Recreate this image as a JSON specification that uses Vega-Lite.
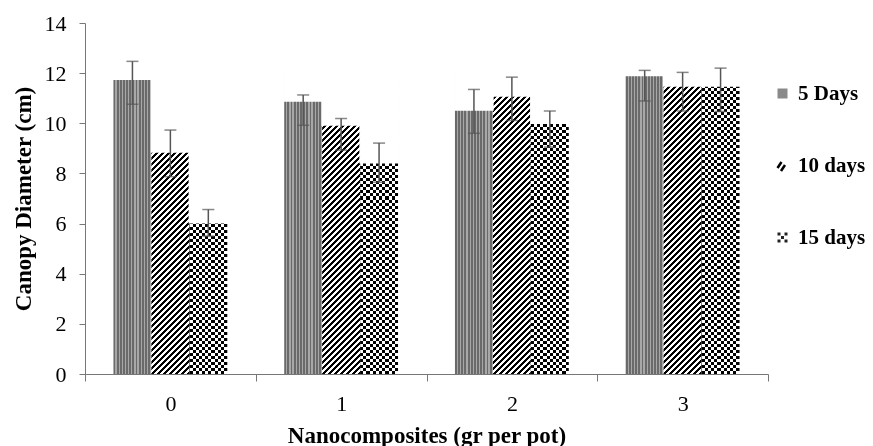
{
"$schema": "https://vega.github.io/schema/vega-lite/v6.json",
"width": 683,
"height": 351,
"autosize": "none",
"padding": {"left": 85, "top": 23, "right": 105, "bottom": 72},
"background": "white",
"config": {
  "view": {"stroke": null},
  "axis": {"grid": false, "domainColor": "#777", "tickColor": "#777", "domainWidth": 1, "tickWidth": 1,
    "labelFont": "Liberation Serif", "labelFontSize": 22, "labelColor": "#000",
    "titleFont": "Liberation Serif", "titleFontSize": 23, "titleFontWeight": "bold", "titleColor": "#000"}
},
"data": {"values": [
  {"cat": "0", "series": "5 Days", "value": 11.76, "lo": 10.76, "hi": 12.47},
  {"cat": "0", "series": "10 days", "value": 8.85, "lo": 7.87, "hi": 9.73},
  {"cat": "0", "series": "15 days", "value": 6.03, "lo": 5.5, "hi": 6.56},
  {"cat": "1", "series": "5 Days", "value": 10.89, "lo": 9.92, "hi": 11.13},
  {"cat": "1", "series": "10 days", "value": 9.93, "lo": 8.93, "hi": 10.19},
  {"cat": "1", "series": "15 days", "value": 8.43, "lo": 7.65, "hi": 9.21},
  {"cat": "2", "series": "5 Days", "value": 10.53, "lo": 9.6, "hi": 11.35},
  {"cat": "2", "series": "10 days", "value": 11.09, "lo": 10.11, "hi": 11.84},
  {"cat": "2", "series": "15 days", "value": 10.0, "lo": 9.05, "hi": 10.49},
  {"cat": "3", "series": "5 Days", "value": 11.91, "lo": 10.89, "hi": 12.11},
  {"cat": "3", "series": "10 days", "value": 11.49, "lo": 10.49, "hi": 12.03},
  {"cat": "3", "series": "15 days", "value": 11.49, "lo": 10.47, "hi": 12.2}
]},
"encoding": {
  "x": {"field": "cat", "type": "nominal", "title": "Nanocomposites (gr per pot)",
    "scale": {"paddingInner": 0, "paddingOuter": 0},
    "axis": {"labelAngle": 0, "tickBand": "extent", "tickSize": 7, "labelPadding": 29, "labelBaseline": "alphabetic",
      "titleX": 341.5, "titleY": 68, "titleBaseline": "alphabetic", "titleAlign": "center"}},
  "xOffset": {"field": "series", "type": "nominal", "sort": ["5 Days", "10 days", "15 days"],
    "scale": {"paddingInner": 0, "paddingOuter": 0.75}}
},
"layer": [
  {
    "mark": {"type": "bar"},
    "encoding": {
      "y": {"datum": 12, "type": "quantitative", "title": "Canopy Diameter (cm)",
        "scale": {"domain": [0, 14], "nice": false},
        "axis": {"values": [0, 2, 4, 6, 8, 10, 12, 14], "tickSize": 6, "labelPadding": 13,
          "titleX": -62, "titleY": 175.5, "titleAngle": 270, "titleBaseline": "middle", "titleAlign": "center"}},
      "y2": {"datum": 0},
      "fill": {
        "field": "series", "type": "nominal", "sort": ["5 Days", "10 days", "15 days"],
        "scale": {"range": ["#8a8a8a", "#555555", "#222222"]},
        "legend": {"title": null, "orient": "none", "legendX": 687, "legendY": 60, "symbolSize": 100,
          "labelFont": "Liberation Serif", "labelFontSize": 21, "labelFontWeight": "bold", "labelColor": "#000",
          "rowPadding": 50, "labelOffset": 5, "padding": 0,
          "encode": {"symbols": {"update": {
            "shape": {"signal": "datum.value === '10 days' ? 'M-1,0.5L-0.2,-0.7M-0.3,1.1L0.5,-0.1' : datum.value === '15 days' ? 'M-1,-1H-0.4V-0.4H-1Z M0.4,-1H1V-0.4H0.4Z M-0.3,-0.3H0.3V0.3H-0.3Z M-1,0.4H-0.4V1H-1Z M0.4,0.4H1V1H0.4Z' : 'square'"},
            "fill": {"signal": "datum.value === '5 Days' ? '#8a8a8a' : datum.value === '15 days' ? '#000' : 'transparent'"},
            "stroke": {"signal": "datum.value === '10 days' ? '#000' : 'transparent'"},
            "strokeWidth": {"value": 2.5}
          }}}},
        "condition": [
          {"test": "datum.series === '5 Days'", "value": {"gradient": "linear", "x1": 0, "y1": 0, "x2": 1, "y2": 0, "stops": [
            {"offset": 0, "color": "#6a6a6a"}, {"offset": 0.05, "color": "#6a6a6a"}, {"offset": 0.05, "color": "#a8a8a8"}, {"offset": 0.0833, "color": "#a8a8a8"},
            {"offset": 0.0833, "color": "#6a6a6a"}, {"offset": 0.1333, "color": "#6a6a6a"}, {"offset": 0.1333, "color": "#a8a8a8"}, {"offset": 0.1667, "color": "#a8a8a8"},
            {"offset": 0.1667, "color": "#6a6a6a"}, {"offset": 0.2167, "color": "#6a6a6a"}, {"offset": 0.2167, "color": "#a8a8a8"}, {"offset": 0.25, "color": "#a8a8a8"},
            {"offset": 0.25, "color": "#6a6a6a"}, {"offset": 0.3, "color": "#6a6a6a"}, {"offset": 0.3, "color": "#a8a8a8"}, {"offset": 0.3333, "color": "#a8a8a8"},
            {"offset": 0.3333, "color": "#6a6a6a"}, {"offset": 0.3833, "color": "#6a6a6a"}, {"offset": 0.3833, "color": "#a8a8a8"}, {"offset": 0.4167, "color": "#a8a8a8"},
            {"offset": 0.4167, "color": "#6a6a6a"}, {"offset": 0.4667, "color": "#6a6a6a"}, {"offset": 0.4667, "color": "#a8a8a8"}, {"offset": 0.5, "color": "#a8a8a8"},
            {"offset": 0.5, "color": "#6a6a6a"}, {"offset": 0.55, "color": "#6a6a6a"}, {"offset": 0.55, "color": "#a8a8a8"}, {"offset": 0.5833, "color": "#a8a8a8"},
            {"offset": 0.5833, "color": "#6a6a6a"}, {"offset": 0.6333, "color": "#6a6a6a"}, {"offset": 0.6333, "color": "#a8a8a8"}, {"offset": 0.6667, "color": "#a8a8a8"},
            {"offset": 0.6667, "color": "#6a6a6a"}, {"offset": 0.7167, "color": "#6a6a6a"}, {"offset": 0.7167, "color": "#a8a8a8"}, {"offset": 0.75, "color": "#a8a8a8"},
            {"offset": 0.75, "color": "#6a6a6a"}, {"offset": 0.8, "color": "#6a6a6a"}, {"offset": 0.8, "color": "#a8a8a8"}, {"offset": 0.8333, "color": "#a8a8a8"},
            {"offset": 0.8333, "color": "#6a6a6a"}, {"offset": 0.8833, "color": "#6a6a6a"}, {"offset": 0.8833, "color": "#a8a8a8"}, {"offset": 0.9167, "color": "#a8a8a8"},
            {"offset": 0.9167, "color": "#6a6a6a"}, {"offset": 0.9667, "color": "#6a6a6a"}, {"offset": 0.9667, "color": "#a8a8a8"}, {"offset": 1, "color": "#a8a8a8"}
          ]}},
          {"test": "datum.series === '10 days'", "value": {"gradient": "linear", "x1": 0, "y1": 0, "x2": 0.24758, "y2": 1.96307, "stops": [
            {"offset": 0, "color": "#000"},
            {"offset": 0.005, "color": "#000"}, {"offset": 0.005, "color": "#fff"}, {"offset": 0.01, "color": "#fff"}, {"offset": 0.01, "color": "#000"},
            {"offset": 0.015, "color": "#000"}, {"offset": 0.015, "color": "#fff"}, {"offset": 0.02, "color": "#fff"}, {"offset": 0.02, "color": "#000"},
            {"offset": 0.025, "color": "#000"}, {"offset": 0.025, "color": "#fff"}, {"offset": 0.03, "color": "#fff"}, {"offset": 0.03, "color": "#000"},
            {"offset": 0.035, "color": "#000"}, {"offset": 0.035, "color": "#fff"}, {"offset": 0.04, "color": "#fff"}, {"offset": 0.04, "color": "#000"},
            {"offset": 0.045, "color": "#000"}, {"offset": 0.045, "color": "#fff"}, {"offset": 0.05, "color": "#fff"}, {"offset": 0.05, "color": "#000"},
            {"offset": 0.055, "color": "#000"}, {"offset": 0.055, "color": "#fff"}, {"offset": 0.06, "color": "#fff"}, {"offset": 0.06, "color": "#000"},
            {"offset": 0.065, "color": "#000"}, {"offset": 0.065, "color": "#fff"}, {"offset": 0.07, "color": "#fff"}, {"offset": 0.07, "color": "#000"},
            {"offset": 0.075, "color": "#000"}, {"offset": 0.075, "color": "#fff"}, {"offset": 0.08, "color": "#fff"}, {"offset": 0.08, "color": "#000"},
            {"offset": 0.085, "color": "#000"}, {"offset": 0.085, "color": "#fff"}, {"offset": 0.09, "color": "#fff"}, {"offset": 0.09, "color": "#000"},
            {"offset": 0.095, "color": "#000"}, {"offset": 0.095, "color": "#fff"}, {"offset": 0.1, "color": "#fff"}, {"offset": 0.1, "color": "#000"},
            {"offset": 0.105, "color": "#000"}, {"offset": 0.105, "color": "#fff"}, {"offset": 0.11, "color": "#fff"}, {"offset": 0.11, "color": "#000"},
            {"offset": 0.115, "color": "#000"}, {"offset": 0.115, "color": "#fff"}, {"offset": 0.12, "color": "#fff"}, {"offset": 0.12, "color": "#000"},
            {"offset": 0.125, "color": "#000"}, {"offset": 0.125, "color": "#fff"}, {"offset": 0.13, "color": "#fff"}, {"offset": 0.13, "color": "#000"},
            {"offset": 0.135, "color": "#000"}, {"offset": 0.135, "color": "#fff"}, {"offset": 0.14, "color": "#fff"}, {"offset": 0.14, "color": "#000"},
            {"offset": 0.145, "color": "#000"}, {"offset": 0.145, "color": "#fff"}, {"offset": 0.15, "color": "#fff"}, {"offset": 0.15, "color": "#000"},
            {"offset": 0.155, "color": "#000"}, {"offset": 0.155, "color": "#fff"}, {"offset": 0.16, "color": "#fff"}, {"offset": 0.16, "color": "#000"},
            {"offset": 0.165, "color": "#000"}, {"offset": 0.165, "color": "#fff"}, {"offset": 0.17, "color": "#fff"}, {"offset": 0.17, "color": "#000"},
            {"offset": 0.175, "color": "#000"}, {"offset": 0.175, "color": "#fff"}, {"offset": 0.18, "color": "#fff"}, {"offset": 0.18, "color": "#000"},
            {"offset": 0.185, "color": "#000"}, {"offset": 0.185, "color": "#fff"}, {"offset": 0.19, "color": "#fff"}, {"offset": 0.19, "color": "#000"},
            {"offset": 0.195, "color": "#000"}, {"offset": 0.195, "color": "#fff"}, {"offset": 0.2, "color": "#fff"}, {"offset": 0.2, "color": "#000"},
            {"offset": 0.205, "color": "#000"}, {"offset": 0.205, "color": "#fff"}, {"offset": 0.21, "color": "#fff"}, {"offset": 0.21, "color": "#000"},
            {"offset": 0.215, "color": "#000"}, {"offset": 0.215, "color": "#fff"}, {"offset": 0.22, "color": "#fff"}, {"offset": 0.22, "color": "#000"},
            {"offset": 0.225, "color": "#000"}, {"offset": 0.225, "color": "#fff"}, {"offset": 0.23, "color": "#fff"}, {"offset": 0.23, "color": "#000"},
            {"offset": 0.235, "color": "#000"}, {"offset": 0.235, "color": "#fff"}, {"offset": 0.24, "color": "#fff"}, {"offset": 0.24, "color": "#000"},
            {"offset": 0.245, "color": "#000"}, {"offset": 0.245, "color": "#fff"}, {"offset": 0.25, "color": "#fff"}, {"offset": 0.25, "color": "#000"},
            {"offset": 0.255, "color": "#000"}, {"offset": 0.255, "color": "#fff"}, {"offset": 0.26, "color": "#fff"}, {"offset": 0.26, "color": "#000"},
            {"offset": 0.265, "color": "#000"}, {"offset": 0.265, "color": "#fff"}, {"offset": 0.27, "color": "#fff"}, {"offset": 0.27, "color": "#000"},
            {"offset": 0.275, "color": "#000"}, {"offset": 0.275, "color": "#fff"}, {"offset": 0.28, "color": "#fff"}, {"offset": 0.28, "color": "#000"},
            {"offset": 0.285, "color": "#000"}, {"offset": 0.285, "color": "#fff"}, {"offset": 0.29, "color": "#fff"}, {"offset": 0.29, "color": "#000"},
            {"offset": 0.295, "color": "#000"}, {"offset": 0.295, "color": "#fff"}, {"offset": 0.3, "color": "#fff"}, {"offset": 0.3, "color": "#000"},
            {"offset": 0.305, "color": "#000"}, {"offset": 0.305, "color": "#fff"}, {"offset": 0.31, "color": "#fff"}, {"offset": 0.31, "color": "#000"},
            {"offset": 0.315, "color": "#000"}, {"offset": 0.315, "color": "#fff"}, {"offset": 0.32, "color": "#fff"}, {"offset": 0.32, "color": "#000"},
            {"offset": 0.325, "color": "#000"}, {"offset": 0.325, "color": "#fff"}, {"offset": 0.33, "color": "#fff"}, {"offset": 0.33, "color": "#000"},
            {"offset": 0.335, "color": "#000"}, {"offset": 0.335, "color": "#fff"}, {"offset": 0.34, "color": "#fff"}, {"offset": 0.34, "color": "#000"},
            {"offset": 0.345, "color": "#000"}, {"offset": 0.345, "color": "#fff"}, {"offset": 0.35, "color": "#fff"}, {"offset": 0.35, "color": "#000"},
            {"offset": 0.355, "color": "#000"}, {"offset": 0.355, "color": "#fff"}, {"offset": 0.36, "color": "#fff"}, {"offset": 0.36, "color": "#000"},
            {"offset": 0.365, "color": "#000"}, {"offset": 0.365, "color": "#fff"}, {"offset": 0.37, "color": "#fff"}, {"offset": 0.37, "color": "#000"},
            {"offset": 0.375, "color": "#000"}, {"offset": 0.375, "color": "#fff"}, {"offset": 0.38, "color": "#fff"}, {"offset": 0.38, "color": "#000"},
            {"offset": 0.385, "color": "#000"}, {"offset": 0.385, "color": "#fff"}, {"offset": 0.39, "color": "#fff"}, {"offset": 0.39, "color": "#000"},
            {"offset": 0.395, "color": "#000"}, {"offset": 0.395, "color": "#fff"}, {"offset": 0.4, "color": "#fff"}, {"offset": 0.4, "color": "#000"},
            {"offset": 0.405, "color": "#000"}, {"offset": 0.405, "color": "#fff"}, {"offset": 0.41, "color": "#fff"}, {"offset": 0.41, "color": "#000"},
            {"offset": 0.415, "color": "#000"}, {"offset": 0.415, "color": "#fff"}, {"offset": 0.42, "color": "#fff"}, {"offset": 0.42, "color": "#000"},
            {"offset": 0.425, "color": "#000"}, {"offset": 0.425, "color": "#fff"}, {"offset": 0.43, "color": "#fff"}, {"offset": 0.43, "color": "#000"},
            {"offset": 0.435, "color": "#000"}, {"offset": 0.435, "color": "#fff"}, {"offset": 0.44, "color": "#fff"}, {"offset": 0.44, "color": "#000"},
            {"offset": 0.445, "color": "#000"}, {"offset": 0.445, "color": "#fff"}, {"offset": 0.45, "color": "#fff"}, {"offset": 0.45, "color": "#000"},
            {"offset": 0.455, "color": "#000"}, {"offset": 0.455, "color": "#fff"}, {"offset": 0.46, "color": "#fff"}, {"offset": 0.46, "color": "#000"},
            {"offset": 0.465, "color": "#000"}, {"offset": 0.465, "color": "#fff"}, {"offset": 0.47, "color": "#fff"}, {"offset": 0.47, "color": "#000"},
            {"offset": 0.475, "color": "#000"}, {"offset": 0.475, "color": "#fff"}, {"offset": 0.48, "color": "#fff"}, {"offset": 0.48, "color": "#000"},
            {"offset": 0.485, "color": "#000"}, {"offset": 0.485, "color": "#fff"}, {"offset": 0.49, "color": "#fff"}, {"offset": 0.49, "color": "#000"},
            {"offset": 0.495, "color": "#000"}, {"offset": 0.495, "color": "#fff"}, {"offset": 0.5, "color": "#fff"}, {"offset": 0.5, "color": "#000"},
            {"offset": 0.505, "color": "#000"}, {"offset": 0.505, "color": "#fff"}, {"offset": 0.51, "color": "#fff"}, {"offset": 0.51, "color": "#000"},
            {"offset": 0.515, "color": "#000"}, {"offset": 0.515, "color": "#fff"}, {"offset": 0.52, "color": "#fff"}, {"offset": 0.52, "color": "#000"},
            {"offset": 0.525, "color": "#000"}, {"offset": 0.525, "color": "#fff"}, {"offset": 0.53, "color": "#fff"}, {"offset": 0.53, "color": "#000"},
            {"offset": 0.535, "color": "#000"}, {"offset": 0.535, "color": "#fff"}, {"offset": 0.54, "color": "#fff"}, {"offset": 0.54, "color": "#000"},
            {"offset": 0.545, "color": "#000"}, {"offset": 0.545, "color": "#fff"}, {"offset": 0.55, "color": "#fff"}, {"offset": 0.55, "color": "#000"},
            {"offset": 0.555, "color": "#000"}, {"offset": 0.555, "color": "#fff"}, {"offset": 0.56, "color": "#fff"}, {"offset": 0.56, "color": "#000"},
            {"offset": 0.565, "color": "#000"}, {"offset": 0.565, "color": "#fff"}, {"offset": 0.57, "color": "#fff"}, {"offset": 0.57, "color": "#000"}
          ]}},
          {"test": "datum.series === '15 days'", "value": {"gradient": "linear", "x1": 0, "y1": 0, "x2": 1, "y2": 0, "stops": [
            {"offset": 0, "color": "#000"}, {"offset": 0.0833, "color": "#000"}, {"offset": 0.0833, "color": "#fff"}, {"offset": 0.1667, "color": "#fff"},
            {"offset": 0.1667, "color": "#000"}, {"offset": 0.25, "color": "#000"}, {"offset": 0.25, "color": "#fff"}, {"offset": 0.3333, "color": "#fff"},
            {"offset": 0.3333, "color": "#000"}, {"offset": 0.4167, "color": "#000"}, {"offset": 0.4167, "color": "#fff"}, {"offset": 0.5, "color": "#fff"},
            {"offset": 0.5, "color": "#000"}, {"offset": 0.5833, "color": "#000"}, {"offset": 0.5833, "color": "#fff"}, {"offset": 0.6667, "color": "#fff"},
            {"offset": 0.6667, "color": "#000"}, {"offset": 0.75, "color": "#000"}, {"offset": 0.75, "color": "#fff"}, {"offset": 0.8333, "color": "#fff"},
            {"offset": 0.8333, "color": "#000"}, {"offset": 0.9167, "color": "#000"}, {"offset": 0.9167, "color": "#fff"}, {"offset": 1, "color": "#fff"}
          ]}}
        ]
      }
    }
  },
  {
    "transform": [{"filter": "datum.series === '15 days'"}],
    "mark": {"type": "bar", "blend": "difference", "fill": {"gradient": "linear", "x1": 0, "y1": 0, "x2": 0, "y2": 1, "stops": [
      {"offset": 0, "color": "#fff"},
      {"offset": 0.01, "color": "#fff"}, {"offset": 0.01, "color": "#000"}, {"offset": 0.02, "color": "#000"}, {"offset": 0.02, "color": "#fff"},
      {"offset": 0.03, "color": "#fff"}, {"offset": 0.03, "color": "#000"}, {"offset": 0.04, "color": "#000"}, {"offset": 0.04, "color": "#fff"},
      {"offset": 0.05, "color": "#fff"}, {"offset": 0.05, "color": "#000"}, {"offset": 0.06, "color": "#000"}, {"offset": 0.06, "color": "#fff"},
      {"offset": 0.07, "color": "#fff"}, {"offset": 0.07, "color": "#000"}, {"offset": 0.08, "color": "#000"}, {"offset": 0.08, "color": "#fff"},
      {"offset": 0.09, "color": "#fff"}, {"offset": 0.09, "color": "#000"}, {"offset": 0.1, "color": "#000"}, {"offset": 0.1, "color": "#fff"},
      {"offset": 0.11, "color": "#fff"}, {"offset": 0.11, "color": "#000"}, {"offset": 0.12, "color": "#000"}, {"offset": 0.12, "color": "#fff"},
      {"offset": 0.13, "color": "#fff"}, {"offset": 0.13, "color": "#000"}, {"offset": 0.14, "color": "#000"}, {"offset": 0.14, "color": "#fff"},
      {"offset": 0.15, "color": "#fff"}, {"offset": 0.15, "color": "#000"}, {"offset": 0.16, "color": "#000"}, {"offset": 0.16, "color": "#fff"},
      {"offset": 0.17, "color": "#fff"}, {"offset": 0.17, "color": "#000"}, {"offset": 0.18, "color": "#000"}, {"offset": 0.18, "color": "#fff"},
      {"offset": 0.19, "color": "#fff"}, {"offset": 0.19, "color": "#000"}, {"offset": 0.2, "color": "#000"}, {"offset": 0.2, "color": "#fff"},
      {"offset": 0.21, "color": "#fff"}, {"offset": 0.21, "color": "#000"}, {"offset": 0.22, "color": "#000"}, {"offset": 0.22, "color": "#fff"},
      {"offset": 0.23, "color": "#fff"}, {"offset": 0.23, "color": "#000"}, {"offset": 0.24, "color": "#000"}, {"offset": 0.24, "color": "#fff"},
      {"offset": 0.25, "color": "#fff"}, {"offset": 0.25, "color": "#000"}, {"offset": 0.26, "color": "#000"}, {"offset": 0.26, "color": "#fff"},
      {"offset": 0.27, "color": "#fff"}, {"offset": 0.27, "color": "#000"}, {"offset": 0.28, "color": "#000"}, {"offset": 0.28, "color": "#fff"},
      {"offset": 0.29, "color": "#fff"}, {"offset": 0.29, "color": "#000"}, {"offset": 0.3, "color": "#000"}, {"offset": 0.3, "color": "#fff"},
      {"offset": 0.31, "color": "#fff"}, {"offset": 0.31, "color": "#000"}, {"offset": 0.32, "color": "#000"}, {"offset": 0.32, "color": "#fff"},
      {"offset": 0.33, "color": "#fff"}, {"offset": 0.33, "color": "#000"}, {"offset": 0.34, "color": "#000"}, {"offset": 0.34, "color": "#fff"},
      {"offset": 0.35, "color": "#fff"}, {"offset": 0.35, "color": "#000"}, {"offset": 0.36, "color": "#000"}, {"offset": 0.36, "color": "#fff"},
      {"offset": 0.37, "color": "#fff"}, {"offset": 0.37, "color": "#000"}, {"offset": 0.38, "color": "#000"}, {"offset": 0.38, "color": "#fff"},
      {"offset": 0.39, "color": "#fff"}, {"offset": 0.39, "color": "#000"}, {"offset": 0.4, "color": "#000"}, {"offset": 0.4, "color": "#fff"},
      {"offset": 0.41, "color": "#fff"}, {"offset": 0.41, "color": "#000"}, {"offset": 0.42, "color": "#000"}, {"offset": 0.42, "color": "#fff"},
      {"offset": 0.43, "color": "#fff"}, {"offset": 0.43, "color": "#000"}, {"offset": 0.44, "color": "#000"}, {"offset": 0.44, "color": "#fff"},
      {"offset": 0.45, "color": "#fff"}, {"offset": 0.45, "color": "#000"}, {"offset": 0.46, "color": "#000"}, {"offset": 0.46, "color": "#fff"},
      {"offset": 0.47, "color": "#fff"}, {"offset": 0.47, "color": "#000"}, {"offset": 0.48, "color": "#000"}, {"offset": 0.48, "color": "#fff"},
      {"offset": 0.49, "color": "#fff"}, {"offset": 0.49, "color": "#000"}, {"offset": 0.5, "color": "#000"}, {"offset": 0.5, "color": "#fff"},
      {"offset": 0.51, "color": "#fff"}, {"offset": 0.51, "color": "#000"}, {"offset": 0.52, "color": "#000"}, {"offset": 0.52, "color": "#fff"},
      {"offset": 0.53, "color": "#fff"}, {"offset": 0.53, "color": "#000"}, {"offset": 0.54, "color": "#000"}, {"offset": 0.54, "color": "#fff"},
      {"offset": 0.55, "color": "#fff"}, {"offset": 0.55, "color": "#000"}, {"offset": 0.56, "color": "#000"}, {"offset": 0.56, "color": "#fff"},
      {"offset": 0.57, "color": "#fff"}, {"offset": 0.57, "color": "#000"}, {"offset": 0.58, "color": "#000"}, {"offset": 0.58, "color": "#fff"},
      {"offset": 0.59, "color": "#fff"}, {"offset": 0.59, "color": "#000"}, {"offset": 0.6, "color": "#000"}, {"offset": 0.6, "color": "#fff"},
      {"offset": 0.61, "color": "#fff"}, {"offset": 0.61, "color": "#000"}, {"offset": 0.62, "color": "#000"}, {"offset": 0.62, "color": "#fff"},
      {"offset": 0.63, "color": "#fff"}, {"offset": 0.63, "color": "#000"}, {"offset": 0.64, "color": "#000"}, {"offset": 0.64, "color": "#fff"},
      {"offset": 0.65, "color": "#fff"}, {"offset": 0.65, "color": "#000"}, {"offset": 0.66, "color": "#000"}, {"offset": 0.66, "color": "#fff"},
      {"offset": 0.67, "color": "#fff"}, {"offset": 0.67, "color": "#000"}, {"offset": 0.68, "color": "#000"}, {"offset": 0.68, "color": "#fff"},
      {"offset": 0.69, "color": "#fff"}, {"offset": 0.69, "color": "#000"}, {"offset": 0.7, "color": "#000"}, {"offset": 0.7, "color": "#fff"},
      {"offset": 0.71, "color": "#fff"}, {"offset": 0.71, "color": "#000"}, {"offset": 0.72, "color": "#000"}, {"offset": 0.72, "color": "#fff"},
      {"offset": 0.73, "color": "#fff"}, {"offset": 0.73, "color": "#000"}, {"offset": 0.74, "color": "#000"}, {"offset": 0.74, "color": "#fff"},
      {"offset": 0.75, "color": "#fff"}, {"offset": 0.75, "color": "#000"}, {"offset": 0.76, "color": "#000"}, {"offset": 0.76, "color": "#fff"},
      {"offset": 0.77, "color": "#fff"}, {"offset": 0.77, "color": "#000"}, {"offset": 0.78, "color": "#000"}, {"offset": 0.78, "color": "#fff"},
      {"offset": 0.79, "color": "#fff"}, {"offset": 0.79, "color": "#000"}, {"offset": 0.8, "color": "#000"}, {"offset": 0.8, "color": "#fff"},
      {"offset": 0.81, "color": "#fff"}, {"offset": 0.81, "color": "#000"}, {"offset": 0.82, "color": "#000"}, {"offset": 0.82, "color": "#fff"},
      {"offset": 0.83, "color": "#fff"}, {"offset": 0.83, "color": "#000"}, {"offset": 0.84, "color": "#000"}, {"offset": 0.84, "color": "#fff"},
      {"offset": 0.85, "color": "#fff"}, {"offset": 0.85, "color": "#000"}, {"offset": 0.86, "color": "#000"}, {"offset": 0.86, "color": "#fff"},
      {"offset": 0.87, "color": "#fff"}, {"offset": 0.87, "color": "#000"}, {"offset": 0.88, "color": "#000"}, {"offset": 0.88, "color": "#fff"},
      {"offset": 0.89, "color": "#fff"}, {"offset": 0.89, "color": "#000"}, {"offset": 0.9, "color": "#000"}, {"offset": 0.9, "color": "#fff"},
      {"offset": 0.91, "color": "#fff"}, {"offset": 0.91, "color": "#000"}, {"offset": 0.92, "color": "#000"}, {"offset": 0.92, "color": "#fff"},
      {"offset": 0.93, "color": "#fff"}, {"offset": 0.93, "color": "#000"}, {"offset": 0.94, "color": "#000"}, {"offset": 0.94, "color": "#fff"},
      {"offset": 0.95, "color": "#fff"}, {"offset": 0.95, "color": "#000"}, {"offset": 0.96, "color": "#000"}, {"offset": 0.96, "color": "#fff"},
      {"offset": 0.97, "color": "#fff"}, {"offset": 0.97, "color": "#000"}, {"offset": 0.98, "color": "#000"}, {"offset": 0.98, "color": "#fff"},
      {"offset": 0.99, "color": "#fff"}, {"offset": 0.99, "color": "#000"}, {"offset": 1, "color": "#000"}
    ]}},
    "encoding": {
      "y": {"datum": 12, "type": "quantitative", "title": "Canopy Diameter (cm)"},
      "y2": {"datum": 0}
    }
  },
  {
    "mark": {"type": "bar", "fill": "white", "stroke": "white", "strokeWidth": 1.5},
    "encoding": {
      "y": {"field": "value", "type": "quantitative", "title": "Canopy Diameter (cm)"},
      "y2": {"datum": 12}
    }
  },
  {
    "mark": {"type": "rule", "color": "#555", "strokeWidth": 1.5},
    "encoding": {
      "y": {"field": "lo", "type": "quantitative", "title": "Canopy Diameter (cm)"},
      "y2": {"field": "hi"}
    }
  },
  {
    "mark": {"type": "tick", "color": "#555", "thickness": 1.5, "size": 12},
    "encoding": {
      "y": {"field": "lo", "type": "quantitative", "title": "Canopy Diameter (cm)"}
    }
  },
  {
    "mark": {"type": "tick", "color": "#555", "thickness": 1.5, "size": 12},
    "encoding": {
      "y": {"field": "hi", "type": "quantitative", "title": "Canopy Diameter (cm)"}
    }
  }
]
}
